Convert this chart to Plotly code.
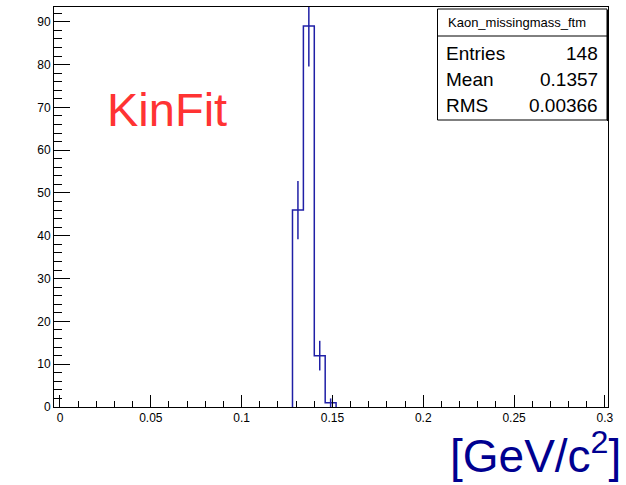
import math
import plotly.graph_objects as go

# ---------------- data ----------------
bin_low = [0.128, 0.134, 0.140, 0.146]
bin_width = 0.006
counts = [46, 89, 12, 1]
hist_name = "Kaon_missingmass_ftm"
stat_labels = ["Entries", "Mean", "RMS"]
stat_values = ["148", "0.1357", "0.00366"]
x_range = [-0.0033, 0.3017]
y_range = [0, 93.45]

# ---------------- geometry helpers ----------------
W, H = 626, 485
PL, PR, PT, PB = 54, 608, 7, 407


def px(x):
    return (x - PL) / (PR - PL)


def py(y):
    return (PB - y) / (PB - PT)


LINE = "#1f1fa6"

# step outline
xs, ys = [bin_low[0]], [0]
for lo, c in zip(bin_low, counts):
    xs += [lo, lo + bin_width]
    ys += [c, c]
xs.append(bin_low[-1] + bin_width)
ys.append(0)

centers = [lo + bin_width / 2 for lo in bin_low]
errs = [math.sqrt(c) for c in counts]

fig = go.Figure()
fig.add_trace(go.Scatter(x=xs, y=ys, mode="lines",
                         line=dict(color=LINE, width=1.5),
                         hoverinfo="skip", showlegend=False))
fig.add_trace(go.Scatter(x=centers, y=counts, mode="markers",
                         marker=dict(size=0.1, color=LINE, opacity=0),
                         error_y=dict(type="data", array=errs, visible=True,
                                      color=LINE, thickness=1.5, width=0),
                         showlegend=False, cliponaxis=True))

font_tick = dict(family="Liberation Sans, Arial, sans-serif", size=12, color="black")

fig.update_layout(
    width=W, height=H,
    margin=dict(l=PL, r=W - PR, t=PT, b=H - PB),
    paper_bgcolor="white", plot_bgcolor="white",
    showlegend=False,
    xaxis=dict(range=x_range, dtick=0.05, tick0=0, ticks="inside", ticklen=12,
               tickwidth=1, tickcolor="black", showline=True, linecolor="black",
               linewidth=1, mirror=True, showgrid=False, zeroline=False,
               tickfont=font_tick,
               minor=dict(dtick=0.01, tick0=0, ticks="inside", ticklen=6,
                          tickcolor="black", showgrid=False)),
    yaxis=dict(range=y_range, dtick=10, tick0=0, ticks="inside", ticklen=16,
               tickwidth=1, tickcolor="black", showline=True, linecolor="black",
               linewidth=1, mirror=True, showgrid=False, zeroline=False,
               tickfont=font_tick,
               minor=dict(dtick=2, tick0=0, ticks="inside", ticklen=8,
                          tickcolor="black", showgrid=False)),
)

# ---------------- stats box ----------------
bx0, bx1, by0, by1, bsep = 437.5, 607, 9, 120, 36
fig.add_shape(type="rect", xref="paper", yref="paper",
              x0=px(bx0), x1=px(bx1), y0=py(by1), y1=py(by0),
              line=dict(color="black", width=1), fillcolor="white", layer="above")
fig.add_shape(type="line", xref="paper", yref="paper",
              x0=px(bx0), x1=px(bx1), y0=py(bsep), y1=py(bsep),
              line=dict(color="black", width=1), layer="above")
fig.add_shape(type="line", xref="paper", yref="paper",
              x0=px(bx1 + 1), x1=px(bx1 + 1), y0=py(by1 + 1), y1=py(by0 + 1),
              line=dict(color="black", width=2), layer="above")

stat_font = "Liberation Sans, Arial, sans-serif"
fig.add_annotation(xref="paper", yref="paper", x=px(446), y=py(22.5),
                   text=hist_name, showarrow=False, xanchor="left", yanchor="middle",
                   font=dict(family=stat_font, size=13, color="black"))
rows_y = [53, 79, 105.5]
for lab, val, yy in zip(stat_labels, stat_values, rows_y):
    fig.add_annotation(xref="paper", yref="paper", x=px(444), y=py(yy), text=lab,
                       showarrow=False, xanchor="left", yanchor="middle",
                       font=dict(family=stat_font, size=19, color="black"))
    fig.add_annotation(xref="paper", yref="paper", x=px(600), y=py(yy), text=val,
                       showarrow=False, xanchor="right", yanchor="middle",
                       font=dict(family=stat_font, size=19, color="black"))

# ---------------- labels ----------------
fig.add_annotation(xref="paper", yref="paper", x=px(105), y=py(109), text="KinFit",
                   showarrow=False, xanchor="left", yanchor="middle",
                   font=dict(family=stat_font, size=47, color="#ff3333"))
fig.add_annotation(xref="paper", yref="paper", x=px(623), y=py(453),
                   text="[GeV/c<sup>2</sup>]",
                   showarrow=False, xanchor="right", yanchor="middle",
                   font=dict(family=stat_font, size=46, color="#000090"))

fig.write_html("out.html")
